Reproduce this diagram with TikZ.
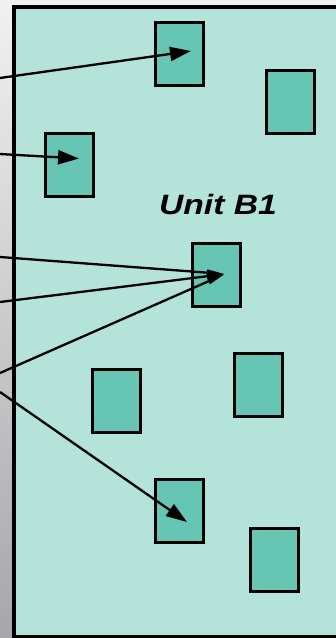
\documentclass[tikz,border=0pt]{standalone}
\usepackage{fontspec}
\setmainfont{Liberation Sans}
\usetikzlibrary{arrows.meta,calc}
\definecolor{panel}{HTML}{B3E3D9}
\definecolor{cell}{HTML}{66C5B3}
\definecolor{paletop}{HTML}{F1F1F1}
\definecolor{palebot}{HTML}{A6A6AB}
\tikzset{
  cellbox/.style={draw=black, line width=3pt, fill=cell, minimum width=48pt,
    minimum height=63pt, inner sep=0pt},
  link/.style={line width=2.3pt, -{Triangle[length=21pt,width=14pt]}},
  thinlink/.style={line width=2.3pt, -{Triangle[length=18pt,width=6pt]}},
}
\begin{document}
\begin{tikzpicture}[x=1pt,y=-1pt]
  \useasboundingbox (0,0) rectangle (336,638);
  % backdrop and the unit panel
  \shade[top color=paletop, bottom color=palebot] (0,0) rectangle (336,638);
  \draw[line width=4pt, fill=panel] (13.8,7) rectangle (350,637);

  % cells
  \node[cellbox] (r1) at (179,54) {};
  \node[cellbox] (r2) at (290,101.5) {};
  \node[cellbox] (r3) at (69,164.5) {};
  \node[cellbox] (r4) at (216.5,275) {};
  \node[cellbox] (r5) at (116.5,401) {};
  \node[cellbox] (r6) at (258.5,385) {};
  \node[cellbox] (r7) at (179,511) {};
  \node[cellbox] (r8) at (274.5,559.5) {};

  \node[anchor=base, font=\bfseries\itshape\fontsize{28}{32}\selectfont,
    xscale=1.2, inner sep=0pt] (label) at (218,214) {Unit B1};

  % incoming connections from outside the unit
  \coordinate (s1) at (0,78);
  \coordinate (s2) at (0,154);
  \coordinate (s3) at (0,257);
  \coordinate (s4) at (0,302);
  \coordinate (s5) at (0,373);
  \coordinate (s6) at (0,392);
  \coordinate (t1) at ($(r1.center)+(12,-3)$);
  \coordinate (t3) at ($(r3.center)+(10,-6)$);
  \coordinate (t4) at ($(r4.center)+(8.5,-1)$);
  \coordinate (t7) at ($(r7.center)+(8,11)$);

  \draw[link] (s1) -- (t1);
  \draw[link] (s2) -- (t3);
  \draw[thinlink] (s3) -- (t4);
  \draw[thinlink] (s4) -- (t4);
  \draw[thinlink] (s5) -- (t4);
  \draw[link] (s6) -- (t7);
\end{tikzpicture}
\end{document}
